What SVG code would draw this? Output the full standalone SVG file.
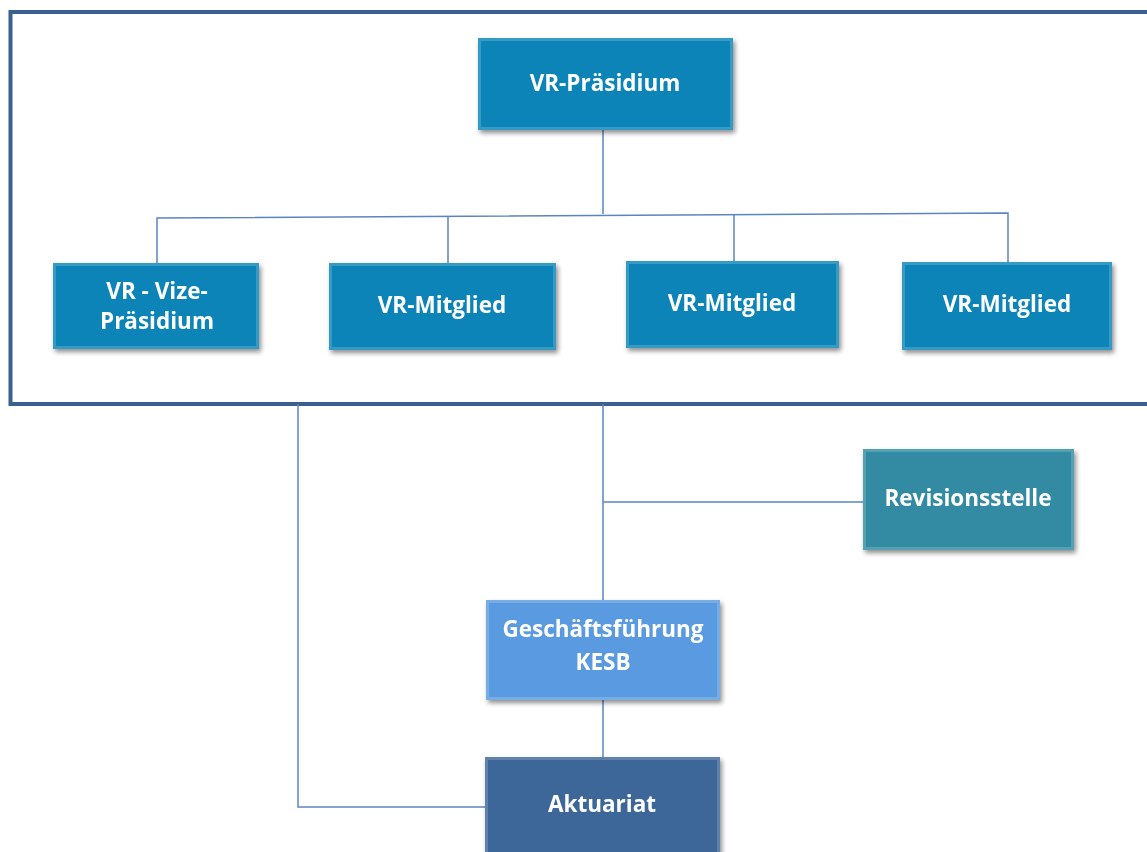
<svg xmlns="http://www.w3.org/2000/svg" width="1147" height="852" viewBox="0 0 1147 852">
<style>
.t{font-family:"Open Sans","Liberation Sans",sans-serif;font-weight:bold;font-size:22.5px;fill:#ffffff;text-anchor:middle}
.c{stroke:#5a86c0;stroke-width:1.5;fill:none}
.bev{fill:none;stroke:#ffffff;stroke-opacity:0.18;stroke-width:3}
</style>
<defs>
<filter id="sh" x="-10%" y="-10%" width="125%" height="130%">
<feGaussianBlur in="SourceAlpha" stdDeviation="2.5"/>
<feOffset dx="2" dy="3" result="b"/>
<feComponentTransfer><feFuncA type="linear" slope="0.45"/></feComponentTransfer>
<feMerge><feMergeNode/><feMergeNode in="SourceGraphic"/></feMerge>
</filter>
</defs>
<rect width="1147" height="852" fill="#ffffff"/>
<path d="M1149 12 H10.5 V404 H1149" fill="none" stroke="#3b5f8e" stroke-width="4"/>
<g id="connectors">
<path class="c" d="M603 130 V214"/>
<path class="c" d="M157 263 V218 L1008 213 V262"/>
<path class="c" d="M448 263 V216"/>
<path class="c" d="M734 261 V214"/>
<path class="c" d="M603 404 V600"/>
<path class="c" d="M603 502 H863"/>
<path class="c" d="M298 404 V807 H485"/>
<path class="c" d="M603 700 V757"/>
</g>
<g id="n-praesidium" filter="url(#sh)">
<rect x="478" y="38" width="255" height="92" fill="#0a84b8"/>
<rect x="479.5" y="39.5" width="252" height="89" class="bev"/>
<text class="t" x="605" y="91">VR-Präsidium</text>
</g>
<g id="n-vize" filter="url(#sh)">
<rect x="53" y="263" width="206" height="86" fill="#0a84b8"/>
<rect x="54.5" y="264.5" width="203" height="83" class="bev"/>
<text class="t" x="157" y="299">VR - Vize-</text>
<text class="t" x="157" y="329">Präsidium</text>
</g>
<g id="n-mitglied1" filter="url(#sh)">
<rect x="329" y="263" width="227" height="87" fill="#0a84b8"/>
<rect x="330.5" y="264.5" width="224" height="84" class="bev"/>
<text class="t" x="442" y="313">VR-Mitglied</text>
</g>
<g id="n-mitglied2" filter="url(#sh)">
<rect x="626" y="261" width="213" height="87" fill="#0a84b8"/>
<rect x="627.5" y="262.5" width="210" height="84" class="bev"/>
<text class="t" x="732" y="311">VR-Mitglied</text>
</g>
<g id="n-mitglied3" filter="url(#sh)">
<rect x="902" y="262" width="210" height="88" fill="#0a84b8"/>
<rect x="903.5" y="263.5" width="207" height="85" class="bev"/>
<text class="t" x="1007" y="312">VR-Mitglied</text>
</g>
<g id="n-revision" filter="url(#sh)">
<rect x="863" y="449" width="211" height="101" fill="#338ba3"/>
<rect x="864.5" y="450.5" width="208" height="98" class="bev"/>
<text class="t" x="968" y="506">Revisionsstelle</text>
</g>
<g id="n-gf" filter="url(#sh)">
<rect x="486" y="600" width="234" height="100" fill="#5a9ae0"/>
<rect x="487.5" y="601.5" width="231" height="97" class="bev"/>
<text class="t" x="603" y="637">Geschäftsführung</text>
<text class="t" x="603" y="670">KESB</text>
</g>
<g id="n-aktuariat" filter="url(#sh)">
<rect x="485" y="757" width="235" height="100" fill="#3e6699"/>
<rect x="486.5" y="758.5" width="232" height="97" class="bev"/>
<text class="t" x="602" y="812">Aktuariat</text>
</g>
</svg>
